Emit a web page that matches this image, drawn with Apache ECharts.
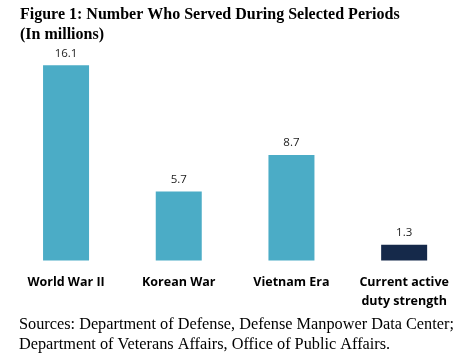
<!DOCTYPE html>
<html><head><meta charset="utf-8">
<script src="https://cdn.jsdelivr.net/npm/echarts@6/dist/echarts.min.js"></script>
<style>html,body{margin:0;padding:0;background:#fff;overflow:hidden}#c{width:470px;height:359px}</style>
</head><body><div id="c"></div>
<script>
const categories = ['World War II', 'Korean War', 'Vietnam Era', 'Current active\nduty strength'];
const values = [16.1, 5.7, 8.7, 1.3];
const barColors = ['#4BACC6', '#4BACC6', '#4BACC6', '#15294A'];
const titleText = 'Figure 1: Number Who Served During Selected Periods\n(In millions)';
const sourceText = 'Sources: Department of Defense, Defense Manpower Data Center;\nDepartment of Veterans Affairs, Office of Public Affairs.';

const chart = echarts.init(document.getElementById('c'));
chart.setOption({
  animation: false,
  title: [{
    text: titleText, left: 20, top: 5, padding: 0,
    textStyle: {fontFamily: 'Liberation Serif', fontWeight: 'bold', fontSize: 16, color: '#000', lineHeight: 20}
  }, {
    text: sourceText, left: 19, top: 315, padding: 0,
    textStyle: {fontFamily: 'Liberation Serif', fontWeight: 'normal', fontSize: 16.3, color: '#000', lineHeight: 20}
  }],
  grid: {left: 9.7, width: 450.8, top: 18, bottom: 98.5},
  xAxis: {
    type: 'category', data: categories,
    axisLine: {show: false}, axisTick: {show: false},
    axisLabel: {margin: 12, fontFamily: 'Open Sans', fontWeight: 'bold', fontSize: 12.5, color: '#000', lineHeight: 19, interval: 0}
  },
  yAxis: {type: 'value', min: 0, max: 20, show: false, splitLine: {show: false}},
  series: [{
    type: 'bar', barWidth: 46,
    data: values.map((v, i) => ({value: v, itemStyle: {color: barColors[i]}})),
    label: {show: true, position: 'top', distance: 6, fontFamily: 'Open Sans', fontSize: 11.5, color: '#222'}
  }]
});
</script></body></html>
